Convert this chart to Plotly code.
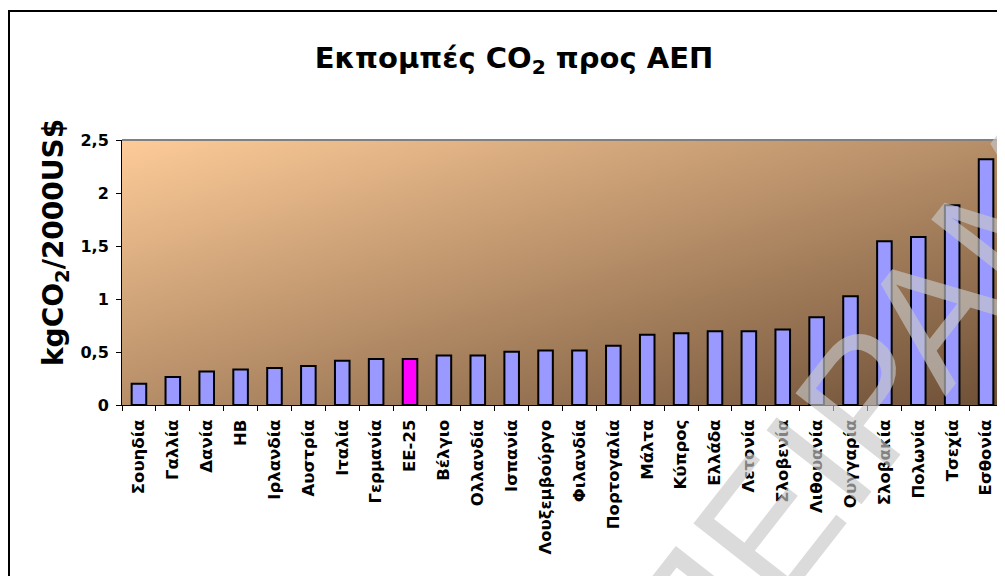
import base64
import plotly.graph_objects as go

countries = ["Σουηδία", "Γαλλία", "Δανία", "ΗΒ", "Ιρλανδία", "Αυστρία", "Ιταλία",
             "Γερμανία", "ΕΕ-25", "Βέλγιο", "Ολλανδία", "Ισπανία", "Λουξεμβούργο",
             "Φιλανδία", "Πορτογαλία", "Μάλτα", "Κύπρος", "Ελλάδα", "Λετονία",
             "Σλοβενία", "Λιθουανία", "Ουγγαρία", "Σλοβακία", "Πολωνία", "Τσεχία",
             "Εσθονία"]
values = [0.20, 0.265, 0.315, 0.335, 0.35, 0.368, 0.418, 0.434, 0.434, 0.468,
          0.468, 0.503, 0.515, 0.515, 0.56, 0.663, 0.676, 0.695, 0.695, 0.713,
          0.827, 1.025, 1.545, 1.585, 1.884, 2.318]
highlight = "ΕΕ-25"
y_ticks = [0, 0.5, 1, 1.5, 2, 2.5]

bar_colors = ["#FF00FF" if c == highlight else "#9999FF" for c in countries]

W, H = 1005, 576
OFF = 8  # page body margin
L, R, T, B = 114, 10, 132, 179
pw, ph = W - L - R, H - T - B

def px_x(p):  # page pixel -> paper
    return (p - OFF - L) / pw

def px_y(p):
    return (H - B - (p - OFF)) / ph

FONT = "DejaVu Sans"

fig = go.Figure(go.Bar(
    x=countries, y=values,
    marker=dict(color=bar_colors, line=dict(color="black", width=2)),
    hoverinfo="x+y",
))

svg = ('<svg xmlns="http://www.w3.org/2000/svg" width="100" height="100" preserveAspectRatio="none">'
       '<defs><linearGradient id="g" x1="0" y1="0" x2="1" y2="1">'
       '<stop offset="0" stop-color="#FDCB98"/><stop offset="1" stop-color="#6E5037"/>'
       '</linearGradient></defs><rect width="100" height="100" fill="url(#g)"/></svg>')
src = "data:image/svg+xml;base64," + base64.b64encode(svg.encode()).decode()

fig.update_layout(
    width=W, height=H,
    margin=dict(l=L, r=R, t=T, b=B, pad=0),
    paper_bgcolor="white",
    plot_bgcolor="rgba(0,0,0,0)",
    separators=",.",
    bargap=0.57,
    showlegend=False,
    title=dict(text="Εκπομπές CO<sub>2</sub> προς ΑΕΠ",
               x=(514 - OFF) / W, xref="container", xanchor="center",
               y=1 - (58 - OFF) / H, yref="container", yanchor="middle",
               font=dict(family=FONT, size=29, color="black", weight="bold")),
    images=[dict(source=src, xref="paper", yref="paper", x=0, y=1,
                 sizex=1, sizey=1, xanchor="left", yanchor="top",
                 sizing="stretch", layer="below")],
    xaxis=dict(type="category", tickangle=-90, ticks="outside", tickson="boundaries",
               ticklen=5, tickcolor="black", showline=True, linecolor="black",
               linewidth=1, showgrid=False, ticklabelstandoff=7,
               tickfont=dict(family=FONT, size=16.5, color="black", weight="bold")),
    yaxis=dict(range=[0, 2.5], tickvals=y_ticks, ticks="outside", ticklen=5,
               tickcolor="black", showline=True, linecolor="black", linewidth=1,
               showgrid=False, zeroline=False, ticklabelstandoff=4,
               tickfont=dict(family=FONT, size=16, color="black", weight="bold")),
    shapes=[
        dict(type="line", xref="paper", yref="paper", x0=0, x1=1, y0=1, y1=1,
             line=dict(color="#808080", width=2), layer="above"),
        dict(type="line", xref="paper", yref="paper", x0=1, x1=1, y0=0, y1=1,
             line=dict(color="#808080", width=2), layer="above"),
        dict(type="rect", xref="paper", yref="paper",
             x0=px_x(9), x1=px_x(1030), y0=px_y(620), y1=px_y(11),
             line=dict(color="black", width=2), fillcolor="rgba(0,0,0,0)", layer="above"),
    ],
    annotations=[
        dict(text="kgCO<sub>2</sub>/2000US$", textangle=-90, showarrow=False,
             xref="paper", yref="paper", x=px_x(55), y=px_y(243),
             xanchor="center", yanchor="middle",
             font=dict(family=FONT, size=28, color="black", weight="bold")),
        dict(text="ΠΕΙΡΑΜΑ", textangle=-52, showarrow=False,
             xref="paper", yref="paper", x=px_x(892), y=px_y(366),
             xanchor="center", yanchor="middle",
             font=dict(family="Liberation Sans", size=175, color="rgba(200,200,200,0.65)")),
    ],
)

fig.write_html("out.html")
